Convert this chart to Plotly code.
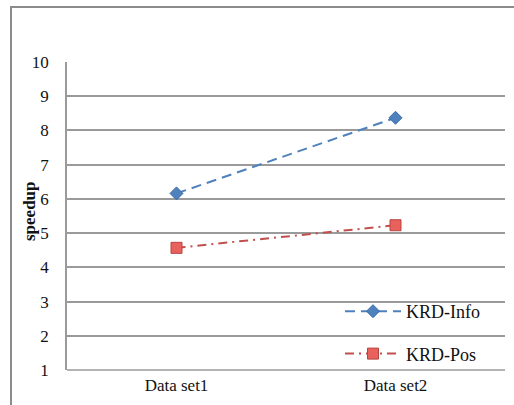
import plotly.graph_objects as go

categories = ["Data set1", "Data set2"]
krd_info = [6.16, 8.37]
krd_pos = [4.57, 5.23]
y_ticks = [1, 2, 3, 4, 5, 6, 7, 8, 9, 10]

W, H = 514, 405
L, R, T, B = 67, 9, 62, 35
pw, ph = W - L - R, H - T - B

fig = go.Figure()
fig.add_trace(go.Scatter(
    x=categories, y=krd_info, name="KRD-Info", mode="lines+markers",
    line=dict(color="#4F81BD", width=2, dash="10px,6px"),
    marker=dict(symbol="diamond", size=10, color="#4F81BD", line=dict(color="#3A6BA8", width=1)),
    legendgroup="a",
))
fig.add_trace(go.Scatter(
    x=categories, y=krd_pos, name="KRD-Pos", mode="lines+markers",
    line=dict(color="#C0504D", width=2, dash="9px,5px,2px,5px"),
    marker=dict(symbol="square", size=11, color="#E8615C", line=dict(color="#B84440", width=1)),
    legendgroup="b",
))

FAM = "Liberation Serif"
font = dict(family=FAM, size=17, color="#111")

def px_x(x):
    return (x - L) / pw

def px_y(y):
    return (H - B - y) / ph

fig.update_layout(
    width=W, height=H,
    margin=dict(l=L, r=R, t=T, b=B),
    paper_bgcolor="white", plot_bgcolor="white",
    font=font,
    showlegend=True,
    legend=dict(
        x=px_x(340), y=px_y(293), xanchor="left", yanchor="top",
        bgcolor="rgba(0,0,0,0)", font=dict(size=18, family=FAM, color="#111"),
        traceorder="grouped", tracegroupgap=16, itemwidth=56,
    ),
    xaxis=dict(
        type="category", range=[-0.5, 1.5], showgrid=False, showline=False,
        ticks="", tickfont=dict(size=17, family=FAM), ticklabelstandoff=3,
    ),
    yaxis=dict(
        range=[1, 10], tickvals=y_ticks, showgrid=True, gridcolor="#9a9a9a", gridwidth=1.5,
        zeroline=False, showline=True, linecolor="#9a9a9a", linewidth=1.5,
        ticks="", tickfont=dict(size=17, family=FAM), ticklabelstandoff=13,
    ),
    annotations=[
        dict(text="<b>speedup</b>", xref="paper", yref="paper",
             x=px_x(29), y=px_y(211), textangle=-90, showarrow=False,
             font=dict(size=17, family=FAM, color="#111"), xanchor="center", yanchor="middle"),
    ],
    shapes=[
        dict(type="rect", xref="paper", yref="paper",
             x0=px_x(11), x1=px_x(530), y0=px_y(420), y1=px_y(7),
             line=dict(color="#8c8c8c", width=2), fillcolor="rgba(0,0,0,0)", layer="below"),
        dict(type="line", xref="paper", yref="paper",
             x0=0, x1=1, y0=0, y1=0, line=dict(color="#9a9a9a", width=1.5)),
    ],
)

fig.write_html("out.html")
